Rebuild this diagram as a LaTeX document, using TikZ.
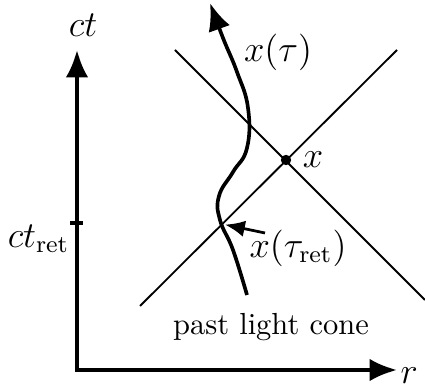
\documentclass[tikz,border=0pt]{standalone}
\usepackage{amsmath}
\usepackage{tikz}
\usetikzlibrary{arrows.meta,positioning,calc}

\begin{document}
\begin{tikzpicture}[x=0.328pt, y=0.328pt,
    axis/.style={line width=1.25pt, {Latex[length=9pt,width=7.4pt]}-{Latex[length=9pt,width=7.4pt]}},
    cone/.style={line width=0.6pt},
    worldline/.style={line width=1.2pt, -{Latex[length=9pt,width=7.4pt]}},
    pointer/.style={line width=0.9pt, -{Latex[length=6.5pt,width=5.4pt]}},
    lbl/.style={font=\large}]
    \useasboundingbox (-77,-20) rectangle (348,370);

    % Axes ct and r
    \coordinate (O) at (0,0);
    \coordinate (T) at (0,320);
    \coordinate (Rend) at (320,0);
    \draw[axis] (T) -- (O) -- (Rend);
    \node[lbl, above=1pt of T, xshift=2pt] (ctlabel) {$ct$};
    \node[lbl, anchor=west, inner sep=1pt, yshift=-2pt] (rlabel) at (Rend) {$r$};

    % Tick for ct_ret
    \draw[line width=1.25pt] (-7,147) -- (6,147);
    \node[lbl, anchor=north east, inner sep=1pt] (ctret) at (-4,149) {$ct_{\mathrm{ret}}$};

    % Event x and its light cone
    \coordinate (X) at (209,210);
    \coordinate (A1) at (98,320);
    \coordinate (A2) at (348,70);
    \coordinate (B1) at (63,64);
    \coordinate (B2) at (320,320);
    \draw[cone] (A1) -- (A2);
    \draw[cone] (B1) -- (B2);
    \fill (X) circle (1.7pt);
    \node[lbl, right=2pt of X] (xlabel) {$x$};

    % World line x(tau)
    \draw[worldline] plot[smooth, tension=0.75] coordinates {
        (170,75) (156,120) (143,150) (142,174)
        (156,198) (170,222) (171,262)
        (160,298) (146,332) (133,367)};
    \node[lbl] (tau) at (201,318) {$x(\tau)$};

    % Retarded point on the past light cone
    \coordinate (R) at (145,146);
    \coordinate (Rtail) at (188,137);
    \node[lbl] (tauret) at (221,122) {$x(\tau_{\mathrm{ret}})$};
    \draw[pointer, shorten >=1pt] (Rtail) -- (R);

    \node (past) at (194,43) {past light cone};
\end{tikzpicture}
\end{document}
